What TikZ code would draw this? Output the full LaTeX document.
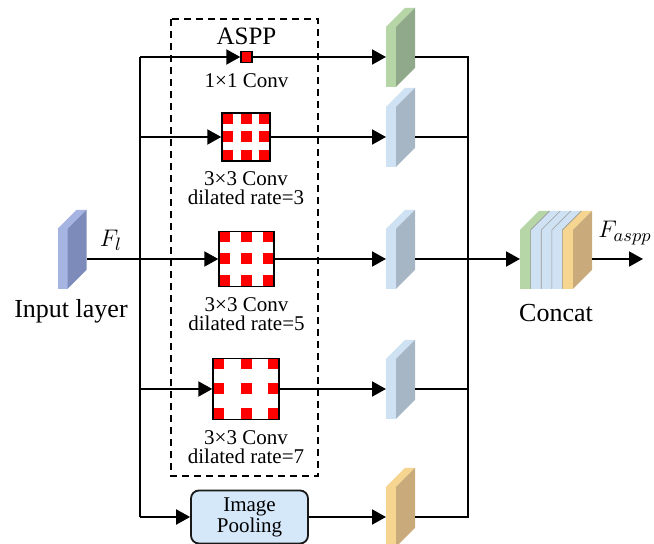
\documentclass[tikz,border=0pt]{standalone}
\usepackage{fontspec}
\setmainfont{Liberation Serif}
\usetikzlibrary{arrows.meta,positioning,calc}

\definecolor{gfront}{HTML}{B6D6A8}
\definecolor{gside}{HTML}{8FA98A}
\definecolor{bfront}{HTML}{CFE2F3}
\definecolor{bside}{HTML}{A7B6C5}
\definecolor{yfront}{HTML}{F6D590}
\definecolor{yside}{HTML}{C9AB7B}
\definecolor{ifront}{HTML}{A6B4E2}
\definecolor{iside}{HTML}{7D8BBB}
\definecolor{poolfill}{HTML}{D5E8FA}

\tikzset{
  pics/slab/.style 2 args={code={
    \fill[#1] (-5,-30) rectangle (5,30);
    \fill[#1] (-5,-30) -- (14,-49) -- (24,-49) -- (5,-30) -- cycle;
    \fill[#2] (5,-30) -- (24,-49) -- (24,11) -- (5,30) -- cycle;
    \coordinate (-in) at (-5,0);
    \coordinate (-out) at (24,0);
  }}
}

\begin{document}
\begin{tikzpicture}[x=0.5pt,y=-0.5pt,>={Triangle[length=7pt,width=7.5pt]},
  flow/.style={->,line width=1pt},
  wire/.style={line width=1pt},
  big/.style={font=\fontsize{13}{15}\selectfont,inner sep=0pt},
  small/.style={font=\fontsize{10.5}{9.5}\selectfont,align=center,inner sep=0pt},
  dilconv/.style 2 args={draw,line width=0.7pt,fill=white,inner sep=0pt,
    minimum width=#1,minimum height=#2,
    path picture={
      \foreach \u in {0,0.5,1} \foreach \v in {0,0.5,1}
        \fill[red] let \p1=(path picture bounding box.south west),
                       \p2=(path picture bounding box.north east) in
          ({\x1+\u*(\x2-\x1-5.5pt)},{\y1+\v*(\y2-\y1-5.5pt)}) rectangle ++(5.5pt,5.5pt);
    }},
  pool/.style={draw=black!90,line width=0.9pt,fill=poolfill,rounded corners=4pt,
    minimum width=58.5pt,minimum height=26.5pt,align=center,inner sep=0pt,
    font=\fontsize{10.5}{10.5}\selectfont}]
\useasboundingbox (0,0) rectangle (654,544);

% ASPP block
\draw[line width=0.8pt,dash pattern=on 3.5pt off 2.5pt] (171,19) rectangle (318,476);
\node[draw,fill=red,line width=0.7pt,minimum size=5.5pt,inner sep=0pt] (c1) at (246.5,57) {};
\node[dilconv={24pt}{24pt}]     (c3) at (246,137) {};
\node[dilconv={27.5pt}{27.5pt}] (c5) at (246.5,259) {};
\node[dilconv={33pt}{30.5pt}]   (c7) at (246,389) {};
\node[pool] (pool) at (249.5,517) {Image\\Pooling};

\node[big,font=\fontsize{12.5}{14}\selectfont] (asppl) [above=3pt of c1] {ASPP};
\node[small] (c1l) [below=5pt of c1] {1×1 Conv};
\node[small] (c3l) [below=5pt of c3] {3×3 Conv\\dilated rate=3};
\node[small] (c5l) [below=5pt of c5] {3×3 Conv\\dilated rate=5};
\node[small] (c7l) [below=5pt of c7] {3×3 Conv\\dilated rate=7};

% feature maps
\pic (inp) at (62.5,259) {slab={ifront}{iside}};
\pic (g1) at (391,57)  {slab={gfront}{gside}};
\pic (g2) at (391,137) {slab={bfront}{bside}};
\pic (g3) at (391,259) {slab={bfront}{bside}};
\pic (g4) at (391,389) {slab={bfront}{bside}};
\pic (g5) at (391,517) {slab={yfront}{yside}};

\node[big] (inl) at (71,311) {Input layer};
\node[big] (fl) at (111,240) {$F_l$};

% concat stack
\foreach \c [count=\i from 0] in {gfront,bfront,bfront,bfront,yfront} {
  \fill[\c] ({520+10.6*\i},230) rectangle ({530.6+10.6*\i},289);
  \fill[\c] ({520+10.6*\i},230) -- ++(19,-19) -- ++(10.6,0) -- ++(-19,19) -- cycle;
}
\foreach \i in {1,...,4}
  \draw[gray!80,line width=0.3pt] ({520+10.6*\i},289) -- ++(0,-59) -- ++(19,-19);
\fill[yside] (573,230) -- (592,211) -- (592,270) -- (573,289) -- cycle;
\coordinate (cat-in) at (520,259);
\coordinate (cat-out) at (592,259);
\node[big] (catl) at (556,313) {Concat};
\node[big,anchor=west] (faspp) at (598,233) {$F_{aspp}$};

% branches
\coordinate (splitT) at (140,57);
\coordinate (splitB) at (140,517);
\coordinate (mergeT) at (468,57);
\coordinate (mergeB) at (468,517);
\coordinate (fout) at (643,259);

\draw[flow] (inp-out) -- (c5);
\draw[wire] (splitT) -- (splitB);
\draw[flow] (splitT) -- (c1);
\draw[flow] (c3.west -| splitT) -- (c3);
\draw[flow] (c7.west -| splitT) -- (c7);
\draw[flow] (splitB) -- (pool);

\draw[flow] (c1) -- (g1-in);
\draw[flow] (c3) -- (g2-in);
\draw[flow] (c5) -- (g3-in);
\draw[flow] (c7) -- (g4-in);
\draw[flow] (pool) -- (g5-in);

\draw[wire] (g1-out) -- (mergeT) -- (mergeB) -- (g5-out);
\draw[wire] (g2-out) -- (g2-out -| mergeT);
\draw[wire] (g4-out) -- (g4-out -| mergeT);
\draw[flow] (g3-out) -- (cat-in);
\draw[flow] (cat-out) -- (fout);
\end{tikzpicture}
\end{document}
